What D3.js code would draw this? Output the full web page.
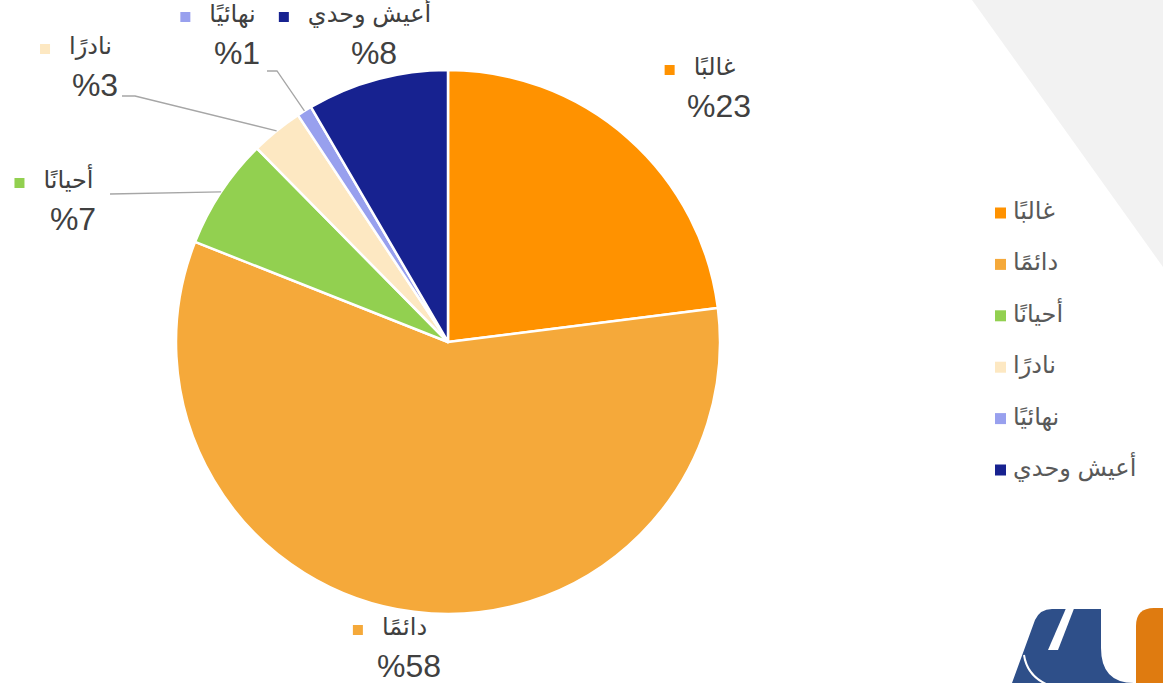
<!DOCTYPE html>
<html>
<head>
<meta charset="utf-8">
<script src="https://cdn.jsdelivr.net/npm/d3@7"></script>
<style>
  body { margin: 0; background: #fff; }
  svg { display: block; }
</style>
</head>
<body>
<svg id="chart"></svg>
<script>
// data
const categories = ['غالبًا', 'دائمًا', 'أحيانًا', 'نادرًا', 'نهائيًا', 'أعيش وحدي']
const values = [23.0, 58.0, 6.6, 3.1, 0.9, 8.4]
const colors = ['#FF9200', '#F5A93A', '#92D050', '#FDE8C2', '#98A0EE', '#172290']

// label layout (percent line centre x, baseline y) and leader-line starts
const labelPos = [[719, 117], [409, 677], [73, 230], [95, 96], [237, 64], [374, 64]]
const leaderStart = { 2: [[110, 194]], 3: [[122, 96], [135, 96]], 4: [[267, 71], [277, 71]] }

const width = 1163
const height = 683
const cx = 448
const cy = 342
const radius = 272
const font = "'Liberation Sans', Arial, 'DejaVu Sans', sans-serif"

const svg = d3.select('#chart')
  .attr('width', width)
  .attr('height', height)
  .attr('viewBox', `0 0 ${width} ${height}`)

// ------------------
// Background decoration
// ------------------
svg.append('polygon')
  .attr('points', '972,0 1163,0 1163,267')
  .attr('fill', '#F2F2F2')

// ------------------
// Pie
// ------------------
const data = categories.map((c, i) => ({ name: c, value: values[i], color: colors[i], i }))

const pie = d3.pie()
  .sort(null)
  .value(d => d.value)

const arc = d3.arc()
  .innerRadius(0)
  .outerRadius(radius)

const arcs = pie(data)

const g = svg.append('g')
  .attr('transform', `translate(${cx},${cy})`)

g.selectAll('.slice')
  .data(arcs)
  .enter()
  .append('path')
  .attr('class', 'slice')
  .attr('d', arc)
  .attr('fill', d => d.data.color)
  .attr('stroke', '#fff')
  .attr('stroke-width', 2.5)
  .attr('stroke-linejoin', 'round')

// ------------------
// Leader lines
// ------------------
arcs.forEach(a => {
  const starts = leaderStart[a.data.i]
  if (!starts) return
  const mid = (a.startAngle + a.endAngle) / 2
  const end = [cx + radius * Math.sin(mid), cy - radius * Math.cos(mid)]
  svg.append('path')
    .attr('d', d3.line()([...starts, end]))
    .attr('fill', 'none')
    .attr('stroke', '#A6A6A6')
    .attr('stroke-width', 1.3)
})

// ------------------
// Data labels
// ------------------
arcs.forEach(a => {
  const [px, py] = labelPos[a.data.i]
  const lg = svg.append('g')

  const name = lg.append('text')
    .attr('y', py - 42)
    .attr('font-family', font)
    .attr('font-size', 24)
    .attr('fill', '#404040')
    .attr('text-anchor', 'start')
    .text(a.data.name)

  const w = name.node().getComputedTextLength()
  const total = 10 + 19 + w
  const left = px - 19 - total / 2

  lg.append('rect')
    .attr('x', left)
    .attr('y', py - 52)
    .attr('width', 10)
    .attr('height', 10)
    .attr('fill', a.data.color)

  name.attr('x', left + 29)

  lg.append('text')
    .attr('x', px)
    .attr('y', py)
    .attr('font-family', font)
    .attr('font-size', 32)
    .attr('fill', '#404040')
    .attr('text-anchor', 'middle')
    .attr('direction', 'ltr')
    .text('%' + Math.round(a.data.value))
})

// ------------------
// Legend
// ------------------
const legend = svg.append('g')
  .attr('transform', 'translate(995, 213)')

const rows = legend.selectAll('.row')
  .data(data)
  .enter()
  .append('g')
  .attr('transform', (d, i) => `translate(0, ${i * 51.4})`)

rows.append('rect')
  .attr('x', 0)
  .attr('y', -5.5)
  .attr('width', 11)
  .attr('height', 11)
  .attr('fill', d => d.color)

rows.append('text')
  .attr('x', 18)
  .attr('y', 6)
  .attr('font-family', font)
  .attr('font-size', 24)
  .attr('fill', '#595959')
  .text(d => d.name)

// ------------------
// Logo
// ------------------
const logo = svg.append('g')
logo.append('path')
  .attr('d', 'M1012,683 L1035,620 Q1040,609 1052,609 L1101,609 L1101,648 Q1101,683 1134,683 Z')
  .attr('fill', '#2E4F89')
logo.append('path')
  .attr('d', 'M1067,606 L1075,606 L1058,650 L1048,650 Z')
  .attr('fill', '#fff')
logo.append('path')
  .attr('d', 'M1024,655 Q1027,675 1046,684')
  .attr('fill', 'none')
  .attr('stroke', '#fff')
  .attr('stroke-width', 2)
logo.append('path')
  .attr('d', 'M1136,683 L1136,626 Q1136,608 1154,608 L1163,608 L1163,683 Z')
  .attr('fill', '#DF7B10')
</script>
</body>
</html>
